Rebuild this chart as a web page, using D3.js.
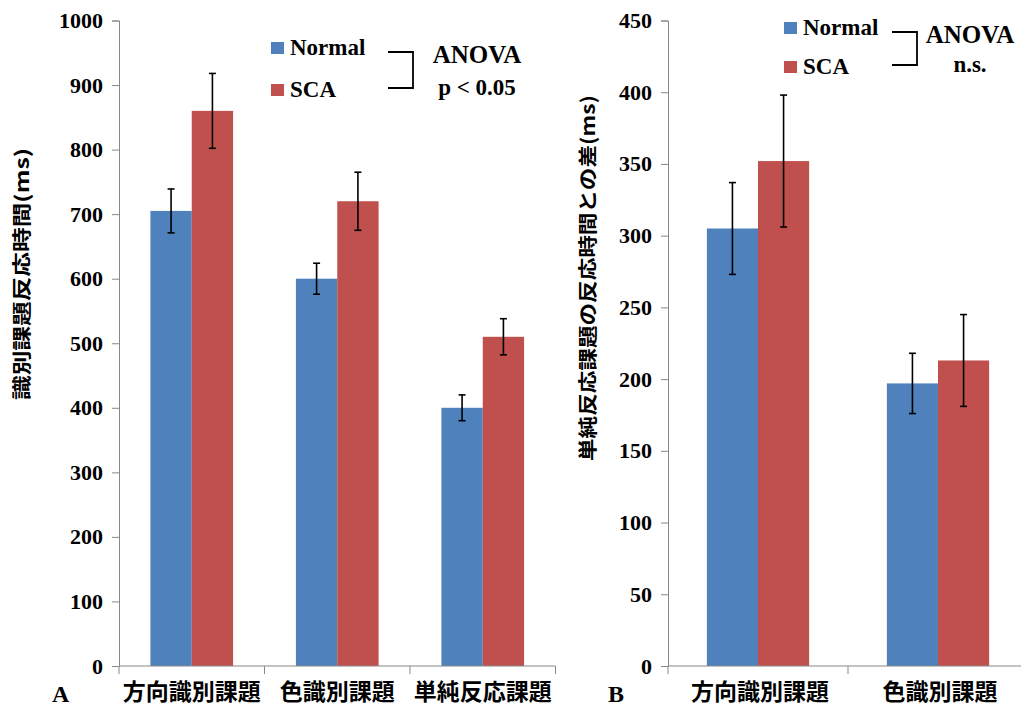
<!DOCTYPE html>
<html>
<head>
<meta charset="utf-8">
<script src="https://cdn.jsdelivr.net/npm/d3@7"></script>
<style>
  body { margin: 0; background: #fff; }
  svg text { font-family: "Liberation Serif", "Times New Roman", serif; font-weight: bold; }
  .jp { font-family: "Noto Sans CJK JP", sans-serif; font-weight: bold; }
</style>
</head>
<body>
<div id="chart"></div>
<script>
// datos de los dos paneles
var series = ['Normal', 'SCA']
var colors = ['#4F81BD', '#C0504D']

var catsA = ['方向識別課題', '色識別課題', '単純反応課題']
var meanNormalA = [705, 600, 400]
var meanScaA = [860, 720, 510]
var errNormalA = [34, 24, 20]
var errScaA = [58, 45, 28]
var ticksA = [0, 100, 200, 300, 400, 500, 600, 700, 800, 900, 1000]

var catsB = ['方向識別課題', '色識別課題']
var meanNormalB = [305, 197]
var meanScaB = [352, 213]
var errNormalB = [32, 21]
var errScaB = [46, 32]
var ticksB = [0, 50, 100, 150, 200, 250, 300, 350, 400, 450]

var W = 1022, H = 709

var svg = d3.select('#chart').append('svg')
    .attr('width', W)
    .attr('height', H)

function panel(opt){
    var g = svg.append('g')
    var data = opt.cats.map(function(c, i){
        return {cat: c, vals: [
            {s: 'Normal', v: opt.normal[i], e: opt.errN[i]},
            {s: 'SCA', v: opt.sca[i], e: opt.errS[i]}
        ]}
    })

    var y = d3.scaleLinear().domain([0, opt.ymax]).range([666, opt.ytop])
    var x0 = d3.scaleBand().domain(opt.cats).range([opt.left, opt.left + opt.catW * opt.cats.length]).padding(0)
    var x1 = d3.scaleBand().domain(series).range([0, x0.bandwidth()]).paddingInner(0).paddingOuter(0.76)
    var color = d3.scaleOrdinal().domain(series).range(colors)

    // eje y
    var yaxis = d3.axisLeft(y).tickValues(opt.ticks).tickFormat(d3.format('d')).tickSize(7).tickPadding(9)
    var ga = g.append('g').attr('transform', 'translate(' + opt.left + ',0)').call(yaxis)
        .attr('font-family', '"Liberation Serif", serif').attr('font-size', 22)
    ga.selectAll('path, line').attr('stroke', '#878787')
    ga.selectAll('text').attr('fill', '#000')
        .style('font-family', '"Liberation Serif", serif').style('font-weight', 'bold')

    // barras
    var grp = g.selectAll('.grp').data(data).enter().append('g')
        .attr('transform', function(d){ return 'translate(' + x0(d.cat) + ',0)' })
    grp.selectAll('rect').data(function(d){ return d.vals }).enter().append('rect')
        .attr('x', function(d){ return x1(d.s) })
        .attr('width', x1.bandwidth())
        .attr('y', function(d){ return y(d.v) })
        .attr('height', function(d){ return y(0) - y(d.v) })
        .attr('fill', function(d){ return color(d.s) })

    // barras de error
    var eb = grp.selectAll('.eb').data(function(d){ return d.vals }).enter().append('g')
        .attr('stroke', '#000').attr('stroke-width', 1.6)
    eb.append('line')
        .attr('x1', function(d){ return x1(d.s) + x1.bandwidth() / 2 })
        .attr('x2', function(d){ return x1(d.s) + x1.bandwidth() / 2 })
        .attr('y1', function(d){ return y(d.v + d.e) })
        .attr('y2', function(d){ return y(d.v - d.e) })
    ;[1, -1].forEach(function(sg){
        eb.append('line')
            .attr('x1', function(d){ return x1(d.s) + x1.bandwidth() / 2 - 3.5 })
            .attr('x2', function(d){ return x1(d.s) + x1.bandwidth() / 2 + 3.5 })
            .attr('y1', function(d){ return y(d.v + sg * d.e) })
            .attr('y2', function(d){ return y(d.v + sg * d.e) })
    })

    // eje x
    var right = Math.min(x0.range()[1], W - 1)
    g.append('line').attr('x1', opt.left).attr('x2', right)
        .attr('y1', y(0)).attr('y2', y(0)).attr('stroke', '#878787')
    var bounds = opt.cats.map(function(c){ return x0(c) }).concat([x0.range()[1]])
    g.selectAll('.xt').data(bounds.filter(function(b){ return b <= W })).enter().append('line')
        .attr('x1', function(d){ return d }).attr('x2', function(d){ return d })
        .attr('y1', y(0)).attr('y2', y(0) + 8).attr('stroke', '#878787')
    g.selectAll('.xl').data(opt.cats).enter().append('text')
        .attr('class', 'jp')
        .attr('x', function(d){ return x0(d) + x0.bandwidth() / 2 + opt.labelShift })
        .attr('y', 700)
        .attr('text-anchor', 'middle')
        .attr('font-size', '23px')
        .text(function(d){ return d })

    // titulo eje y
    g.append('text').attr('class', 'jp')
        .attr('transform', 'translate(' + opt.titleX + ',' + opt.titleY + ') rotate(-90)')
        .attr('text-anchor', 'middle')
        .attr('font-size', '19px')
        .attr('textLength', opt.titleLen)
        .attr('lengthAdjust', 'spacingAndGlyphs')
        .text(opt.title)

    // letra del panel
    g.append('text').attr('x', opt.letterX).attr('y', 702).attr('font-size', '24px').text(opt.letter)

    // leyenda
    var lg = g.append('g')
    series.forEach(function(s, i){
        var yy = opt.legY + i * opt.legGap
        lg.append('rect').attr('x', opt.legX).attr('y', yy - 13).attr('width', 13).attr('height', 12)
            .attr('fill', color(s))
        lg.append('text').attr('x', opt.legX + 19).attr('y', yy).attr('font-size', '23px').text(s)
    })
    var by1 = opt.legY - 3, by2 = opt.legY + opt.legGap - 9
    lg.append('path')
        .attr('d', 'M' + opt.brX + ',' + by1 + 'H' + (opt.brX + 25) + 'V' + by2 + 'H' + opt.brX)
        .attr('fill', 'none').attr('stroke', '#000').attr('stroke-width', 1.8)
    lg.append('text').attr('x', opt.anovaX).attr('y', opt.legY + 8).attr('text-anchor', 'middle')
        .attr('font-size', '25px').text('ANOVA')
    lg.append('text').attr('x', opt.anovaX).attr('y', opt.legY + opt.legGap - 2).attr('text-anchor', 'middle')
        .attr('font-size', '23px').text(opt.sig)
}

panel({
    cats: catsA, normal: meanNormalA, sca: meanScaA, errN: errNormalA, errS: errScaA,
    ticks: ticksA, ymax: 1000, ytop: 20.5, left: 119, catW: 145.5, labelShift: 0,
    title: '識別課題反応時間(ms)', titleX: 29, titleY: 274, titleLen: 252,
    letter: 'A', letterX: 52,
    legX: 271, legY: 55, legGap: 42, brX: 388, anovaX: 477, sig: 'p < 0.05'
})

panel({
    cats: catsB, normal: meanNormalB, sca: meanScaB, errN: errNormalB, errS: errScaB,
    ticks: ticksB, ymax: 450, ytop: 20.5, left: 668, catW: 180, labelShift: 2,
    title: '単純反応課題の反応時間との差(ms)', titleX: 595, titleY: 278, titleLen: 366,
    letter: 'B', letterX: 608,
    legX: 784, legY: 35, legGap: 39, brX: 892, anovaX: 970, sig: 'n.s.'
})
</script>
</body>
</html>
